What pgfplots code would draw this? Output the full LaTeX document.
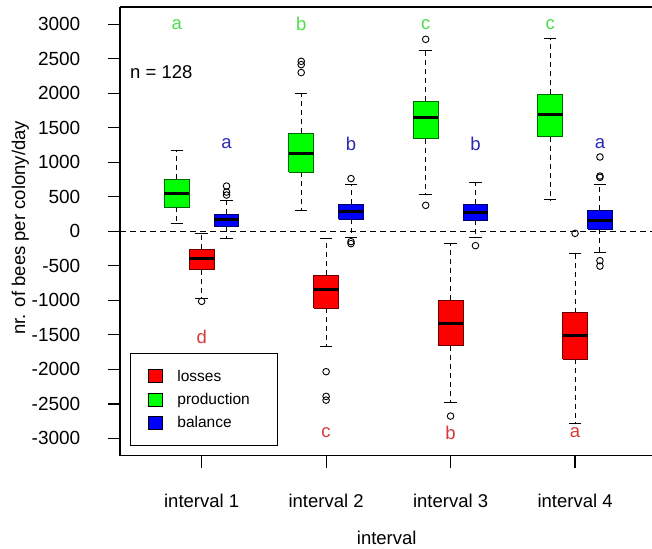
\documentclass[border=0pt]{standalone}
\usepackage{pgfplots}
\pgfplotsset{compat=1.18}
\usepackage{fontspec}
\setmainfont{Liberation Sans}
\definecolor{Rred}{HTML}{FF0000}
\definecolor{Rgreen}{HTML}{00FF00}
\definecolor{Rblue}{HTML}{0000FF}
\definecolor{lred}{HTML}{D63A3A}
\definecolor{lgreen}{HTML}{4CDD4C}
\definecolor{lblue}{HTML}{2A2AB0}
\pgfplotsset{
  whisk/.style={black, line width=1pt, dash pattern=on 5pt off 4pt},
  cap/.style={black, line width=1pt, solid},
  outl/.style={only marks, mark=o, mark size=3.3pt, mark options={black, solid, line width=0.9pt}},
  sqlegend/.style={legend image code/.code={\draw[##1, line width=0.9pt] (0pt,-6.5pt) rectangle (14pt,6.5pt);}},
}
% #1 position, #2 lower whisker, #3 lower quartile, #4 median, #5 upper quartile, #6 upper whisker, #7 fill, #8 border
\newcommand{\bx}[8]{%
  \pgfmathsetmacro\bxl{#1-0.1}\pgfmathsetmacro\bxr{#1+0.1}%
  \pgfmathsetmacro\bxcl{#1-0.05}\pgfmathsetmacro\bxcr{#1+0.05}%
  \addplot[whisk] coordinates {(#1,#5) (#1,#6)};
  \addplot[whisk] coordinates {(#1,#3) (#1,#2)};
  \addplot[cap] coordinates {(\bxcl,#6) (\bxcr,#6)};
  \addplot[cap] coordinates {(\bxcl,#2) (\bxcr,#2)};
  \addplot[fill=#7, draw=#8, line width=1pt] coordinates {(\bxl,#3) (\bxr,#3) (\bxr,#5) (\bxl,#5) (\bxl,#3)};
  \addplot[black, line width=3pt] coordinates {(\bxl,#4) (\bxr,#4)};
}
\begin{document}
\begin{tikzpicture}
\begin{axis}[
  at={(120pt,92.3pt)}, anchor=south west,
  width=536.7pt, height=448.7pt, scale only axis,
  xmin=0.344, xmax=4.656, ymin=-3250, ymax=3250,
  axis lines*=left,
  axis line style={line width=1.2pt},
  xtick={1,2,3,4},
  xticklabels={interval 1,interval 2,interval 3,interval 4},
  ytick={-3000,-2500,...,3000},
  yticklabels={-3000,-2500,-2000,-1500,-1000,-500,0,500,1000,1500,2000,2500,3000},
  tick align=outside, major tick length=12pt,
  tick style={black, line width=1.2pt},
  xtick pos=left, ytick pos=left,
  tick label style={inner sep=0pt},
  yticklabel style={font=\fontsize{19}{22}\selectfont, anchor=east, xshift=-27.5pt},
  xticklabel style={font=\fontsize{18.5}{22}\selectfont, anchor=base, yshift=-40pt},
  xlabel={interval},
  xlabel style={font=\fontsize{18.5}{22}\selectfont, at={(axis description cs:0.497,0)}, anchor=base, yshift=-89pt},
  ylabel={nr. of bees per colony/day},
  ylabel style={font=\fontsize{18.5}{22}\selectfont, at={(axis description cs:-0.177,0.508)}, anchor=base},
  legend cell align=left,
  legend style={at={(axis description cs:0.0186,0.228)}, anchor=north west,
    draw=black, line width=1pt, fill=white,
    inner xsep=18pt, inner ysep=14.1pt, row sep=6.6pt, column sep=12pt,
    font=\fontsize{15.5}{18}\selectfont},
]
\addlegendimage{sqlegend, fill=Rred, draw=black}
\addlegendentry{\makebox[80pt][l]{\rule[-3pt]{0pt}{13pt}losses}}
\addlegendimage{sqlegend, fill=Rgreen, draw=black}
\addlegendentry{\makebox[80pt][l]{\rule[-3pt]{0pt}{13pt}production}}
\addlegendimage{sqlegend, fill=Rblue, draw=black}
\addlegendentry{\makebox[80pt][l]{\rule[-3pt]{0pt}{13pt}balance}}

\addplot[black, line width=1pt, dash pattern=on 6pt off 4pt]
  coordinates {(0.344,0) (4.656,0)};

% interval 1
\bx{0.8}{111}{352}{555}{753}{1174}{Rgreen}{Rgreen!40!black}
\bx{1}{-975}{-555}{-387}{-256}{-33}{Rred}{Rred!40!black}
\bx{1.2}{-97}{68}{174}{251}{445}{Rblue}{Rblue!40!black}
% interval 2
\bx{1.8}{304}{859}{1126}{1424}{2004}{Rgreen}{Rgreen!40!black}
\bx{2}{-1671}{-1111}{-836}{-633}{-101}{Rred}{Rred!40!black}
\bx{2.2}{-91}{174}{294}{391}{677}{Rblue}{Rblue!40!black}
% interval 3
\bx{2.8}{532}{1343}{1656}{1888}{2618}{Rgreen}{Rgreen!40!black}
\bx{3}{-2482}{-1656}{-1328}{-1000}{-178}{Rred}{Rred!40!black}
\bx{3.2}{-91}{159}{275}{391}{706}{Rblue}{Rblue!40!black}
% interval 4
\bx{3.8}{459}{1372}{1695}{1985}{2792}{Rgreen}{Rgreen!40!black}
\bx{4}{-2778}{-1850}{-1507}{-1178}{-319}{Rred}{Rred!40!black}
\bx{4.2}{-300}{33}{155}{304}{677}{Rblue}{Rblue!40!black}

% outliers
\addplot[outl] coordinates {(1,-1014) (1.2,526) (1.2,569) (1.2,656)
  (1.8,2300) (1.8,2415) (1.8,2463) (2,-2033) (2,-2391) (2,-2445)
  (2.2,764) (2.2,-149) (2.2,-178)
  (2.8,2782) (2.8,377) (3,-2676) (3.2,-207)
  (4,-29) (4.2,782) (4.2,801) (4.2,1077) (4.2,-425) (4.2,-503)};

% top frame line
\draw[black, line width=1.2pt] (rel axis cs:0,1) -- (rel axis cs:1,1);

% letters
\begin{scope}[every node/.style={font=\fontsize{18.5}{22}\selectfont}]
\node[text=lgreen] at (axis cs:0.8,3000) {a};
\node[text=lgreen] at (axis cs:1.8,3000) {b};
\node[text=lgreen] at (axis cs:2.8,3000) {c};
\node[text=lgreen] at (axis cs:3.8,3000) {c};
\node[text=lblue] at (axis cs:1.2,1265) {a};
\node[text=lblue] at (axis cs:2.2,1265) {b};
\node[text=lblue] at (axis cs:3.2,1265) {b};
\node[text=lblue] at (axis cs:4.2,1265) {a};
\node[text=lred] at (axis cs:1,-1531) {d};
\node[text=lred] at (axis cs:2,-2917) {c};
\node[text=lred] at (axis cs:3,-2917) {b};
\node[text=lred] at (axis cs:4,-2917) {a};
\node[anchor=west, inner sep=0pt] at (axis cs:0.424,2304) {n = 128};
\end{scope}
\end{axis}
\pgfresetboundingbox
\useasboundingbox (0,0) rectangle (652pt,548pt);
\end{tikzpicture}
\end{document}
